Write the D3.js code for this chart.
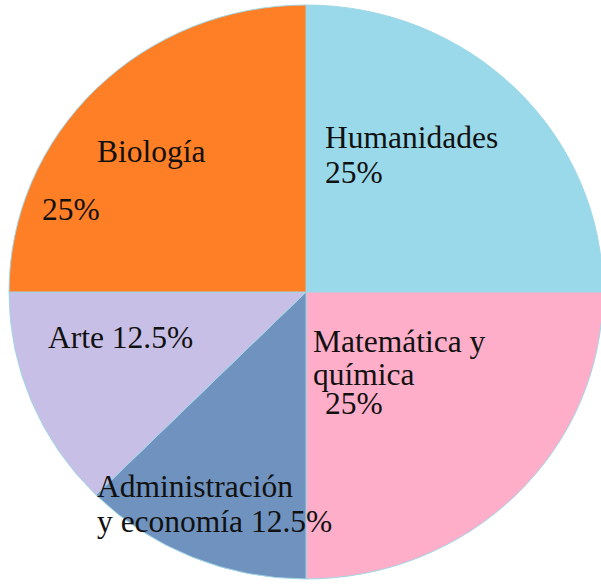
<!DOCTYPE html>
<html>
<head>
<meta charset="utf-8">
<script src="https://cdn.jsdelivr.net/npm/d3@7"></script>
<style>
  html, body { margin: 0; padding: 0; background: #fff; }
  svg { display: block; }
</style>
</head>
<body>
<svg id="chart" width="601" height="586"></svg>
<script>
// ---- data ----
const categories = ["Humanidades", "Matemática y química", "Administración y economía", "Arte", "Biología"];
const values = [25, 25, 12.5, 12.5, 25];
const colors = ["#99D9EA", "#FFAEC9", "#7092BE", "#C8BFE7", "#FF7F27"];
// label text lines per category
const labelLines = [
  ["Humanidades", "25%"],
  ["Matemática y", "química", "25%"],
  ["Administración", "y economía 12.5%"],
  ["Arte 12.5%"],
  ["Biología", "25%"]
];

// ---- layout (not data) ----
const cx = 306, cy = 292, rx = 297, ry = 287;
const labelPos = [
  [[325, 148], [325, 183]],
  [[313, 352], [313, 385], [325, 414]],
  [[97, 497], [97, 532]],
  [[48, 348]],
  [[97, 162], [42, 220]]
];

const svg = d3.select("#chart");
const g = svg.append("g")
  .attr("transform", `translate(${cx},${cy}) scale(1,${ry / rx})`);

const pie = d3.pie().sort(null).value(d => d)(values);
const arc = d3.arc().innerRadius(0).outerRadius(rx);

g.selectAll("path")
  .data(pie)
  .join("path")
  .attr("d", arc)
  .attr("fill", (d, i) => colors[i])
  .attr("stroke", "#9fd6e6")
  .attr("stroke-width", 1);

const labels = svg.append("g")
  .attr("font-family", "'Liberation Serif', 'Times New Roman', serif")
  .attr("font-size", 31.5)
  .attr("fill", "#111");

categories.forEach((c, i) => {
  labelLines[i].forEach((line, j) => {
    labels.append("text")
      .attr("x", labelPos[i][j][0])
      .attr("y", labelPos[i][j][1])
      .text(line);
  });
});
</script>
</body>
</html>
